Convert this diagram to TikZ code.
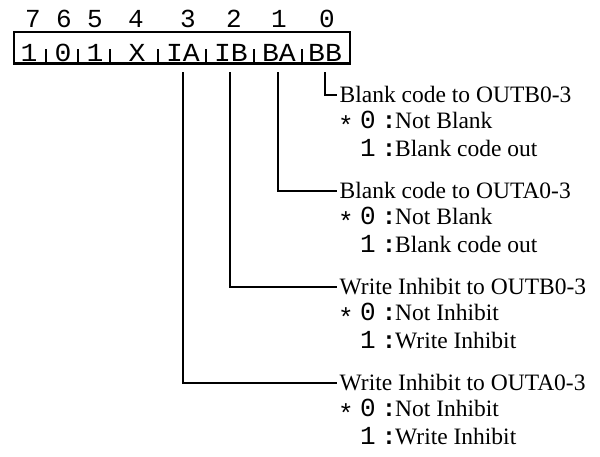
\documentclass[tikz,border=0pt]{standalone}
\usepackage{fontspec}
\setmainfont{Liberation Serif}
\newfontfamily\monofont{Liberation Mono}
\begin{document}
\begin{tikzpicture}[x=1pt,y=-1pt,
  wire/.style={line width=2.9pt},
  frame/.style={line width=2.6pt},
  bitnum/.style={font=\monofont\fontsize{26}{26}\selectfont, anchor=base, inner sep=0pt},
  cell/.style={font=\monofont\fontsize{26}{26}\selectfont, anchor=base, inner sep=0pt, xscale=1.08},
  mono/.style={font=\monofont\fontsize{26}{26}\selectfont, anchor=base, inner sep=0pt},
  colon/.style={font=\monofont\bfseries\fontsize{24}{24}\selectfont, anchor=base, inner sep=0pt},
  title/.style={font=\fontsize{23.5}{23.5}\selectfont, anchor=west, inner xsep=2.5pt, inner ysep=0pt, text height=14pt, text depth=0pt},
  desc/.style={font=\fontsize{23.5}{23.5}\selectfont, anchor=base west, inner sep=0pt}]
\useasboundingbox (0,0) rectangle (600,456);
% register frame
\draw[frame] (14,32) rectangle (350,63.5);
\foreach \x in {46,78,110,158,206,254,302}
  \draw[frame] (\x,49) -- (\x,63.5);
% bit numbers
\node[bitnum] (n7) at (33,27) {7};
\node[bitnum] (n6) at (64,27) {6};
\node[bitnum] (n5) at (95,27) {5};
\node[bitnum] (n4) at (136,27) {4};
\node[bitnum] (n3) at (188,27) {3};
\node[bitnum] (n2) at (234,27) {2};
\node[bitnum] (n1) at (279,27) {1};
\node[bitnum] (n0) at (327,27) {0};
% cell contents
\node[cell] (c7) at (29,61) {1};
\node[cell] (c6) at (63,61) {0};
\node[cell] (c5) at (95,61) {1};
\node[cell] (c4) at (137,61) {X};
\node[cell] (cIA) at (183,61) {IA};
\node[cell] (cIB) at (231,61) {IB};
\node[cell] (cBA) at (279,61) {BA};
\node[cell] (cBB) at (325,61) {BB};
% line start coordinates
\coordinate (sBB) at (325,72);
\coordinate (sBA) at (278,72);
\coordinate (sIB) at (230,72);
\coordinate (sIA) at (183,72);
% groups
\foreach \nm/\L/\ttl/\zero/\one in {
  BB/95/Blank code to OUTB0-3/Not Blank/Blank code out,
  BA/191/Blank code to OUTA0-3/Not Blank/Blank code out,
  IB/287/Write Inhibit to OUTB0-3/Not Inhibit/Write Inhibit,
  IA/383/Write Inhibit to OUTA0-3/Not Inhibit/Write Inhibit}{
  \node[title] (t\nm) at (337,\L) {\ttl};
  \node[mono] (st\nm) at (346,\L+33) {\raisebox{-6pt}{*}};
  \node[mono] (z\nm) at (368,\L+33) {0};
  \node[colon] (zc\nm) at (389,\L+33) {:};
  \node[desc] (zd\nm) at (395,\L+33) {\zero};
  \node[mono] (o\nm) at (368,\L+61) {1};
  \node[colon] (oc\nm) at (389,\L+61) {:};
  \node[desc] (od\nm) at (395,\L+61) {\one};
  \draw[wire] (s\nm) |- (t\nm.west);
}
\end{tikzpicture}
\end{document}
